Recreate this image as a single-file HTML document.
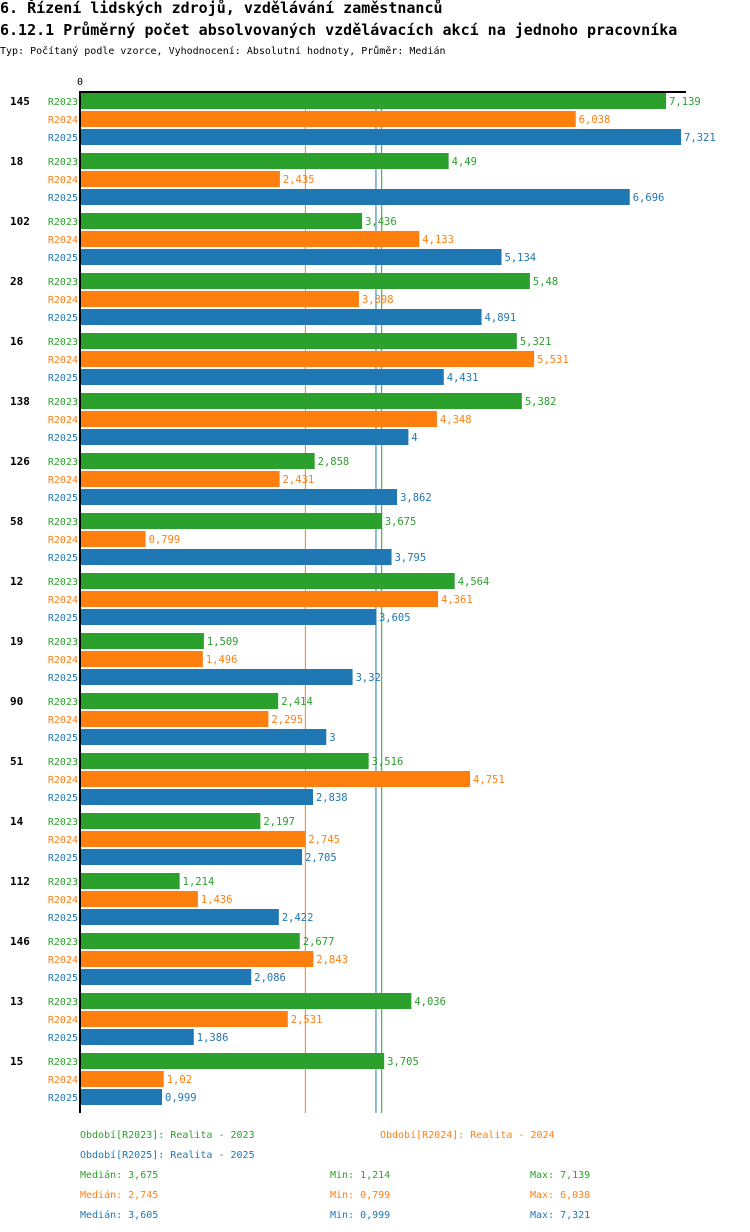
<!DOCTYPE html>
<html><head><meta charset="utf-8"><style>
body{margin:0;background:#fff;width:750px;height:1232px;overflow:hidden}
svg{display:block;font-family:"DejaVu Sans Mono","Liberation Mono",monospace}
</style></head><body>
<svg id="c" width="750" height="1232">
<text x="0" y="13" font-size="15" font-weight="bold">6. Řízení lidských zdrojů, vzdělávání zaměstnanců</text>
<text x="0" y="35" font-size="15" font-weight="bold">6.12.1 Průměrný počet absolvovaných vzdělávacích akcí na jednoho pracovníka</text>
<text x="0" y="54" font-size="10">Typ: Počítaný podle vzorce, Vyhodnocení: Absolutní hodnoty, Průměr: Medián</text>
</svg>
<script>
const categories=["145","18","102","28","16","138","126","58","12","19","90","51","14","112","146","13","15"];
const r2023=[7.139,4.49,3.436,5.48,5.321,5.382,2.858,3.675,4.564,1.509,2.414,3.516,2.197,1.214,2.677,4.036,3.705];
const r2024=[6.038,2.435,4.133,3.398,5.531,4.348,2.431,0.799,4.361,1.496,2.295,4.751,2.745,1.436,2.843,2.531,1.02];
const r2025=[7.321,6.696,5.134,4.891,4.431,4,3.862,3.795,3.605,3.32,3,2.838,2.705,2.422,2.086,1.386,0.999];
const seriesNames=["R2023","R2024","R2025"];
const medians=[3.675,2.745,3.605];
const mins=[1.214,0.799,0.999];
const maxs=[7.139,6.038,7.321];
const colors=["#2ca02c","#ff7f0e","#1f77b4"];
const NS="http://www.w3.org/2000/svg",svgEl=document.getElementById("c");
const x0=80,pxu=82.1,topY=92;
const X=v=>x0+v*pxu;
function mk(t,a,txt){const e=document.createElementNS(NS,t);for(const k in a)e.setAttribute(k,a[k]);if(txt!==undefined)e.textContent=txt;svgEl.appendChild(e);return e;}
const fmt=v=>String(v).replace(".",",");
const series=[r2023,r2024,r2025];
const bottomY=topY+categories.length*60+1;
medians.forEach((m,i)=>{const l=mk("line",{x1:X(m),x2:X(m),y1:topY,y2:bottomY,stroke:colors[i],"stroke-width":1});

});
categories.forEach((c,g)=>{
 const gy=topY+g*60;
 const t=mk("text",{x:10,y:gy+13,"font-size":11,"font-weight":"bold"},c);
 
 
 series.forEach((s,i)=>{
  const y=gy+1+i*18;
  const lb=mk("text",{x:78,y:y+12,"font-size":10,"text-anchor":"end",fill:colors[i]},seriesNames[i]);
  
  
  const r=mk("rect",{x:x0,y:y,width:X(s[g])-x0,height:16,fill:colors[i]});
  
  
  const v=mk("text",{x:X(s[g])+3,y:y+12,"font-size":10.5,fill:colors[i]},fmt(s[g]));
  
  
 });
});
const ax=mk("line",{x1:x0,x2:686,y1:topY,y2:topY,stroke:"#000","stroke-width":2});


const ay=mk("line",{x1:x0,x2:x0,y1:topY-1,y2:bottomY,stroke:"#000","stroke-width":2});


const z=mk("text",{x:x0,y:85,"font-size":10,"text-anchor":"middle"},"0");


const leg=[[80,1138,0,"Období[R2023]: Realita - 2023"],[380,1138,1,"Období[R2024]: Realita - 2024"],[80,1158,2,"Období[R2025]: Realita - 2025"]];
leg.forEach(l=>{const e=mk("text",{x:l[0],y:l[1],"font-size":10,fill:colors[l[2]]},l[3]);

});
for(let i=0;i<3;i++){const y=1178+i*20;
 const a=mk("text",{x:80,y:y,"font-size":10,fill:colors[i]},"Medián: "+fmt(medians[i]));
 
 
 const b=mk("text",{x:330,y:y,"font-size":10,fill:colors[i]},"Min: "+fmt(mins[i]));
 
 
 const d=mk("text",{x:530,y:y,"font-size":10,fill:colors[i]},"Max: "+fmt(maxs[i]));
 
 
}
</script>
</body></html>
